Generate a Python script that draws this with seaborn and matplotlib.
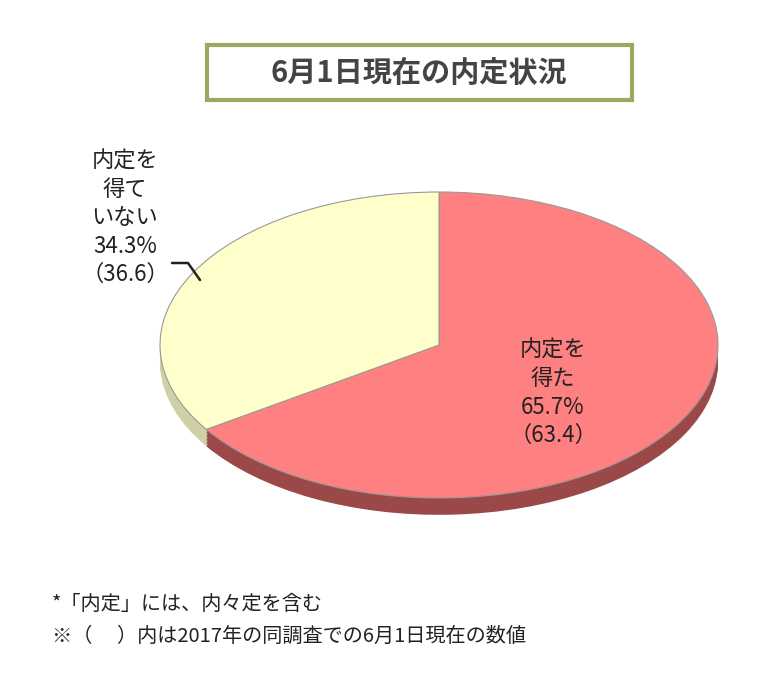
import matplotlib
matplotlib.use("Agg")
import matplotlib.pyplot as plt
import seaborn as sns
from matplotlib.patches import Rectangle

sns.set_theme(style="white")
plt.rcParams['font.family'] = ['Noto Sans CJK JP', 'DejaVu Sans']

categories = ["内定を\n得た", "内定を\n得て\nいない"]
values = [65.7, 34.3]
prev_values = [63.4, 36.6]
top_colors = ["#FF8080", "#FFFFCC"]
side_colors = ["#9A4848", "#CFCFA8"]
title = "6月1日現在の内定状況"
notes = ["*「内定」には、内々定を含む", "※（　 ）内は2017年の同調査での6月1日現在の数値"]

W, H = 780, 684
fig = plt.figure(figsize=(W/100, H/100), dpi=100)
fig.patch.set_facecolor("white")
ax = fig.add_axes([160/W, 1-498/H, 558/W, 306/H])

depth = 0.11
steps = 12
for i in range(steps, 0, -1):
    off = -depth * i / steps
    wedges, _ = ax.pie(values, colors=side_colors, startangle=90, counterclock=False,
                       center=(0, off), radius=1,
                       wedgeprops=dict(linewidth=0))
    for w in wedges:
        w.set_clip_on(False)
wedges, _ = ax.pie(values, colors=top_colors, startangle=90, counterclock=False,
                   wedgeprops=dict(edgecolor="#999999", linewidth=0.8))
for w in wedges:
    w.set_clip_on(False)
ax.set_aspect('auto')
ax.set_xlim(-1, 1)
ax.set_ylim(-1, 1)
ax.axis('off')

fig.patches.append(Rectangle((207/W, 1-100/H), 425/W, 55/H, transform=fig.transFigure,
                             fill=False, edgecolor="#9AA860", linewidth=3))
fig.text(419/W, 1-73/H, title, ha="center", va="center", fontsize=21,
         fontweight="bold", color="#444444")

fig.text(553/W, 1-393/H,
         f"{categories[0]}\n{values[0]}%\n（{prev_values[0]}）",
         ha="center", va="center", fontsize=16, color="#222222", linespacing=1.3)
fig.text(125/W, 1-218/H,
         f"{categories[1]}\n{values[1]}%\n（{prev_values[1]}）",
         ha="center", va="center", fontsize=16, color="#222222", linespacing=1.3)
fig.add_artist(plt.Line2D([172/W, 188/W, 200/W], [1-263/H, 1-263/H, 1-280/H],
                          transform=fig.transFigure, color="#222222", linewidth=1.8))

fig.text(52/W, 1-604/H, notes[0], ha="left", va="center", fontsize=14.5, color="#222222")
fig.text(52/W, 1-636/H, notes[1], ha="left", va="center", fontsize=14.5, color="#222222")

fig.savefig("out.png", dpi=100)
